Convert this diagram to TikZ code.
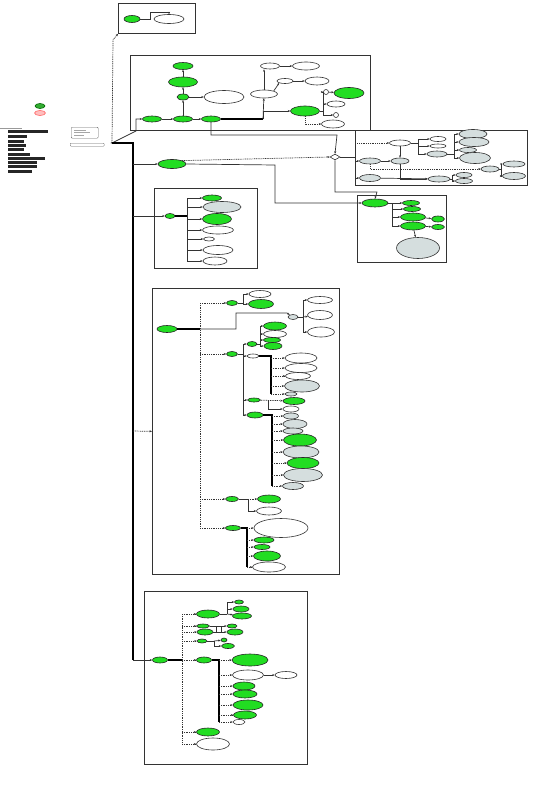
\documentclass[tikz,border=0pt]{standalone}
\usetikzlibrary{shapes.geometric,arrows.meta}
\definecolor{ngreen}{HTML}{22DD22}
\definecolor{ngrey}{HTML}{D5DEDE}
\definecolor{lcol}{HTML}{333333}
\tikzset{
  base/.style={ellipse, inner sep=0pt, line width=0.6pt},
  g/.style 2 args={base, draw=black!85, fill=ngreen, minimum width=#1pt, minimum height=#2pt},
  w/.style 2 args={base, draw=black!80, fill=white, minimum width=#1pt, minimum height=#2pt},
  gr/.style 2 args={base, draw=black!80, fill=ngrey, minimum width=#1pt, minimum height=#2pt},
  clbox/.style 2 args={draw=black!80, line width=0.75pt, fill=none, rectangle, inner sep=0pt, minimum width=#1pt, minimum height=#2pt, anchor=north west},
  e/.style={draw=lcol, line width=0.7pt, -{Stealth[length=2.4pt,width=2pt]}},
  d/.style={e, dash pattern=on 1pt off 0.8pt},
  tk/.style={draw=black, line width=1.2pt},
  ln/.style={draw=lcol, line width=0.7pt},
  barb/.style={fill=black!85, draw=none},
}
\begin{document}
\begin{tikzpicture}[x=1pt,y=-1pt]
\useasboundingbox (0,0) rectangle (554,800);
\fill[white] (0,0) rectangle (554,800);

% ---------- legend ----------
\node[base, draw=green!40!black, fill=green!60!black!80, minimum width=10pt, minimum height=5pt] (lg1) at (40,106) {};
\node[base, draw=red!60, fill=red!25, minimum width=11pt, minimum height=5pt] (lg2) at (40,113) {};
\draw[ln, draw=black!40] (0,128) -- (22,128);
\foreach \yy/\xx in {130/48,135/27,140/24,144/26,148/24,153/30,157/45,161/37,165/37,170/32}
  \fill[barb] (8,\yy) rectangle (\xx,\yy+2.6);
\node[draw=black!60, fill=white, rounded corners=1pt, minimum width=27pt, minimum height=11pt, anchor=north west, inner sep=0pt] (lgbox) at (71,127) {};
\foreach \yy/\xx in {130/86,132.5/90,135/84}
  \draw[black!35, line width=0.6pt] (74,\yy) -- (\xx,\yy);
\node[draw=black!60, fill=white, rounded corners=0.8pt, minimum width=34pt, minimum height=3pt, anchor=north west, inner sep=0pt] (lgbar) at (70,143) {};
\coordinate (J0) at (112,143);
\node[inner sep=0pt, font=\tiny] (star) at (J0) {$\ast$};

% ---------- cluster 1 ----------
\node[clbox={77}{30}] (K1) at (118,3) {};
\node[g={16}{7}] (G1) at (132,19) {};
\node[w={30}{9}] (W1) at (169,19) {};
\draw[e] (G1.east) -| (150,12) -| (W1.north);

% ---------- cluster 2 ----------
\node[clbox={240}{75}] (K2) at (130,55) {};
\node[g={20}{7}] (A) at (183,66) {};
\node[g={29}{10}] (B) at (183,82) {};
\node[g={12}{6}] (C) at (183,97) {};
\node[w={40}{13}] (D) at (224,97) {};
\node[g={19}{6}] (E) at (152,119) {};
\node[g={19}{6}] (F) at (183,119) {};
\node[g={19}{6}] (G) at (211,119) {};
\node[w={19}{6}] (H) at (270,66) {};
\node[w={27}{8}] (I) at (306,66) {};
\node[w={16}{5}] (J) at (285,81) {};
\node[w={24}{8}] (K) at (317,81) {};
\node[w={27}{8}] (L) at (264,94) {};
\node[g={29}{10}] (M) at (305,111) {};
\node[g={30}{11}] (N) at (349,93) {};
\node[w={5}{5}] (O) at (326,92) {};
\node[w={18}{6}] (P) at (336,104) {};
\node[w={5}{5}] (Q) at (336,115) {};
\node[w={23}{8}] (R) at (333,124) {};
\draw[e] (F) -- (C);
\draw[e] (C) -- (B);
\draw[e] (B) -- (A);
\draw[e] (C) -- (D);
\draw[e] (E) -- (F);
\draw[e] (F) -- (G);
\coordinate (g1) at (263,119);
\draw[tk] (G) -- (g1);
\draw[e] (g1) -- (L);
\draw[e] (g1) |- (M);
\draw[e] (L) -- (L |- H.south);
\draw[e] (H) -- (I);
\draw[e] (L.north east) -- (J.south west);
\draw[e] (J) -- (K);
\coordinate (m1) at (323,111);
\draw[ln] (M) -- (m1);
\draw[e] (m1) |- (O);
\draw[e] (O) -- (N);
\draw[e] (m1) |- (P);
\draw[e] (m1) |- (Q);
\draw[d] (M.south) |- (R);
\draw[e] (J0) -- (136,131) |- (E);
\draw[d] (J0) -- (113,40) -- (K1.south west);

% ---------- trunk ----------
\coordinate (T1) at (133,143);
\coordinate (T2) at (133,660);
\draw[tk] (J0) -- (T1) -- (T2);

% ---------- diamond / S ----------
\node[g={28}{9}] (S) at (172,164) {};
\node[diamond, draw=black!80, fill=white, inner sep=0pt, minimum width=10pt, minimum height=6pt, line width=0.6pt] (Dm) at (335,157) {};
\draw[e] (133,164) -- (S);
\draw[d] (S.north east) -- (Dm.west);
\draw[e] (G.south) |- (337,135) -- (Dm.north);

% ---------- cluster 3 ----------
\node[clbox={172}{55}] (K3) at (355,130) {};
\node[w={21}{6}] (T) at (400,143) {};
\node[w={16}{5}] (U) at (438,139) {};
\node[w={16}{4}] (V) at (438,146) {};
\node[gr={20}{6}] (W) at (437,154) {};
\node[gr={28}{9}] (X) at (473,134) {};
\node[gr={30}{9}] (Y) at (474,142) {};
\node[gr={17}{5}] (Z) at (468,150) {};
\node[gr={31}{11}] (AA) at (475,158) {};
\node[gr={21}{6}] (AB) at (370,161) {};
\node[gr={18}{6}] (AC) at (400,161) {};
\node[gr={18}{6}] (AD) at (490,169) {};
\node[gr={22}{6}] (AE) at (514,164) {};
\node[gr={23}{7}] (AF) at (514,176) {};
\node[gr={21}{7}] (AG) at (370,178) {};
\node[gr={22}{6}] (AH) at (439,179) {};
\node[gr={16}{5}] (AI) at (464,175) {};
\node[gr={17}{5}] (AJ) at (464,181) {};
\coordinate (t0) at (355,157);
\draw[ln] (Dm) -- (t0);
\draw[d] (t0) |- (T);
\draw[e] (t0) |- (AB);
\draw[e] (t0) |- (AG);
\draw[e] (AB) -- (AC);
\draw[e] (T) -- (AC);
\draw[e] (AC) |- (AH);
\draw[e] (AG) -- (AH);
\coordinate (t1) at (418,143);
\draw[ln] (T) -- (t1);
\draw[e] (t1) |- (U);
\draw[e] (t1) |- (V);
\draw[e] (t1) |- (W);
\coordinate (t2) at (454,154);
\draw[ln] (W) -- (t2);
\draw[e] (t2) |- (X);
\draw[e] (t2) |- (Y);
\draw[e] (t2) |- (Z);
\draw[e] (t2) |- (AA);
\draw[d] (AB.south) |- (AD);
\coordinate (t3) at (501,169);
\draw[ln] (AD) -- (t3);
\draw[e] (t3) |- (AE);
\draw[e] (t3) |- (AF);
\coordinate (t4) at (452,179);
\draw[ln] (AH) -- (t4);
\draw[e] (t4) |- (AI);
\draw[e] (t4) |- (AJ);

% ---------- cluster 4 ----------
\node[clbox={89}{67}] (K4) at (357,195) {};
\node[g={26}{8}] (BA) at (375,203) {};
\node[g={17}{5}] (BB) at (411,203) {};
\node[g={17}{5}] (BC) at (412,209) {};
\node[g={25}{8}] (BD) at (413,217) {};
\node[g={25}{8}] (BE) at (413,226) {};
\node[g={13}{6}] (BF) at (438,219) {};
\node[g={13}{5}] (BG) at (438,227) {};
\node[gr={43}{21}] (BH) at (418,248) {};
\draw[e] (S.east) -- (275,165) |- (BA);
\draw[e] (Dm.south) |- (377,192) -- (BA.north);
\coordinate (b1) at (392,203);
\draw[ln] (BA) -- (b1);
\draw[e] (b1) -- (BB);
\draw[e] (b1) |- (BC);
\draw[e] (b1) |- (BD);
\draw[e] (b1) |- (BE);
\draw[e] (BD) -- (BF);
\draw[e] (BE) -- (BG);
\draw[e] (BE) -- (BH);

% ---------- cluster 5 ----------
\node[clbox={103}{80}] (K5) at (154,188) {};
\node[g={10}{5}] (CA) at (170,216) {};
\node[g={19}{6}] (CB) at (212,198) {};
\node[gr={38}{11}] (CC) at (222,207) {};
\node[g={29}{11}] (CD) at (217,219) {};
\node[w={31}{8}] (CE) at (218,230) {};
\node[w={11}{4}] (CF) at (209,239) {};
\node[w={30}{9}] (CG) at (218,250) {};
\node[w={24}{8}] (CH) at (215,261) {};
\draw[e] (133,216) -- (CA);
\coordinate (c1) at (187,216);
\draw[tk] (CA) -- (c1);
\draw[ln] (187,198) -- (187,261);
\foreach \n in {CB,CC,CD,CE,CF,CG,CH} \draw[e] (187,0 |- \n) -- (\n);

% ---------- cluster 6 ----------
\node[clbox={187}{286}] (K6) at (152,288) {};
\draw[d] (133,431) -- (K6.west);
\node[g={20}{7}] (DA) at (167,329) {};
\node[g={11}{5}] (DB) at (232,303) {};
\node[w={22}{7}] (DC) at (260,294) {};
\node[g={25}{9}] (DD) at (261,304) {};
\node[gr={10}{5}] (DE) at (293,317) {};
\node[w={25}{7}] (DF) at (320,300) {};
\node[w={25}{9}] (DG) at (320,315) {};
\node[w={27}{10}] (DH) at (321,332) {};
\node[g={11}{5}] (DI) at (232,354) {};
\node[g={10}{5}] (DJ) at (252,344) {};
\node[g={23}{8}] (DK) at (275,326) {};
\node[w={23}{7}] (DL) at (275,334) {};
\node[g={17}{5}] (DM) at (272,340) {};
\node[g={18}{7}] (DN) at (273,346) {};
\node[w={12}{4}] (DO) at (253,356) {};
\node[w={32}{10}] (DP) at (301,358) {};
\node[w={32}{9}] (DQ) at (301,368) {};
\node[w={25}{7}] (DR) at (298,376) {};
\node[gr={35}{12}] (DS) at (302,386) {};
\node[gr={12}{4}] (DT) at (291,394) {};
\node[g={13}{4}] (DU) at (254,400) {};
\node[g={22}{7}] (DV) at (294,401) {};
\node[w={16}{6}] (DW) at (291,409) {};
\node[g={16}{6}] (DX) at (255,415) {};
\node[gr={15}{6}] (DY) at (291,416) {};
\node[gr={24}{9}] (DZ) at (295,424) {};
\node[gr={20}{6}] (EA) at (293,431) {};
\node[g={33}{12}] (EB) at (300,440) {};
\node[gr={36}{12}] (EC) at (301,452) {};
\node[g={32}{11}] (ED) at (303,463) {};
\node[gr={39}{13}] (EE) at (303,475) {};
\node[gr={21}{7}] (EF) at (293,486) {};
\node[g={13}{5}] (EG) at (232,499) {};
\node[g={23}{8}] (EH) at (269,499) {};
\node[w={25}{8}] (EI) at (269,511) {};
\node[g={15}{5}] (EJ) at (233,528) {};
\node[w={54}{19}] (EK) at (281,528) {};
\node[g={20}{6}] (EL) at (264,540) {};
\node[g={16}{5}] (EM) at (262,547) {};
\node[g={27}{10}] (EN) at (267,556) {};
\node[w={33}{10}] (EO) at (269,567) {};
\coordinate (d0) at (200,329);
\draw[tk] (DA) -- (d0);
\draw[ln, dash pattern=on 1pt off 0.8pt] (200,303) -- (200,528);
\foreach \n in {DB,DI,EG,EJ} \draw[d] (200,0 |- \n) -- (\n);
\draw[e] (d0) -- (236,329) |- (287,313) -- (DE);
\coordinate (d1) at (303,317);
\draw[ln] (DE) -- (d1);
\draw[e] (d1) |- (DF);
\draw[e] (d1) -- (DG);
\draw[e] (d1) |- (DH);
\coordinate (d2) at (243,303);
\draw[ln] (DB) -- (d2);
\draw[e] (d2) |- (DC);
\draw[e] (d2) |- (DD);
\coordinate (d3) at (243,354);
\draw[ln] (DI) -- (d3);
\draw[ln] (243,344) -- (243,415);
\draw[e] (243,344) -- (DJ);
\draw[e] (243,356) -- (DO);
\draw[e] (243,400) -- (DU);
\draw[e] (243,415) -- (DX);
\coordinate (d4) at (260,344);
\draw[ln] (DJ) -- (d4);
\draw[ln] (260,326) -- (260,346);
\foreach \n in {DK,DL,DM,DN} \draw[e] (260,0 |- \n) -- (\n);
\coordinate (d5) at (271,356);
\draw[tk] (DO) -- (d5) -- (271,394);
\foreach \n in {DP,DQ,DR,DS,DT} \draw[d] (271,0 |- \n) -- (\n);
\draw[d] (DU) -- (DV);
\draw[e] (268,400) |- (DW);
\coordinate (d6) at (272,415);
\draw[tk] (DX) -- (d6) -- (272,486);
\foreach \n in {DY,DZ,EA,EB,EC,ED,EE,EF} \draw[d] (272,0 |- \n) -- (\n);
\coordinate (d7) at (248,499);
\draw[ln] (EG) -- (d7);
\draw[d] (d7) -- (EH);
\draw[e] (d7) |- (EI);
\coordinate (d8) at (247,528);
\draw[tk] (EJ) -- (d8) -- (247,567);
\foreach \n in {EK,EL,EM,EN,EO} \draw[d] (247,0 |- \n) -- (\n);

% ---------- cluster 7 ----------
\node[clbox={163}{173}] (K7) at (144,591) {};
\node[g={15}{6}] (FA) at (160,660) {};
\node[g={23}{8}] (FB) at (208,614) {};
\node[g={9}{4}] (FC) at (239,602) {};
\node[g={16}{6}] (FD) at (241,609) {};
\node[g={19}{6}] (FE) at (242,616) {};
\node[g={13}{4}] (FF) at (203,626) {};
\node[g={16}{6}] (FG) at (205,632) {};
\node[g={10}{4}] (FH) at (232,626) {};
\node[g={16}{6}] (FI) at (235,632) {};
\node[g={10}{4}] (FJ) at (202,641) {};
\node[g={6}{4}] (FK) at (224,640) {};
\node[g={13}{5}] (FL) at (228,646) {};
\node[g={15}{6}] (FM) at (204,660) {};
\node[g={36}{12}] (FN) at (250,660) {};
\node[w={31}{10}] (FO) at (248,675) {};
\node[w={22}{7}] (FP) at (286,675) {};
\node[g={22}{8}] (FQ) at (244,686) {};
\node[g={24}{8}] (FR) at (245,694) {};
\node[g={30}{10}] (FS) at (248,705) {};
\node[g={23}{8}] (FT) at (245,715) {};
\node[w={12}{5}] (FU) at (239,722) {};
\node[g={23}{8}] (FV) at (208,732) {};
\node[w={33}{12}] (FW) at (213,744) {};
\draw[e] (T2) -- (FA);
\coordinate (f0) at (182,660);
\draw[tk] (FA) -- (f0);
\draw[ln, dash pattern=on 1pt off 0.8pt] (182,614) -- (182,744);
\foreach \n in {FB,FF,FG,FJ,FM,FV,FW} \draw[d] (182,0 |- \n) -- (\n);
\coordinate (f1) at (227,614);
\draw[ln] (FB) -- (f1);
\draw[e] (f1) |- (FC);
\draw[e] (f1) |- (FD);
\draw[e] (f1) -- (FE);
\draw[e] (FF) -- (FH);
\draw[e] (FG) -- (FI);
\draw[ln] (216,626) -- (216,632);
\draw[ln] (221,626) -- (221,632);
\coordinate (f2) at (214,641);
\draw[ln] (FJ) -- (f2);
\draw[e] (f2) -- (FK);
\draw[e] (f2) |- (FL);
\coordinate (f3) at (219,660);
\draw[tk] (FM) -- (f3) -- (219,722);
\foreach \n in {FN,FO,FQ,FR,FS,FT,FU} \draw[d] (219,0 |- \n) -- (\n);
\draw[e] (FO) -- (FP);
\end{tikzpicture}
\end{document}
